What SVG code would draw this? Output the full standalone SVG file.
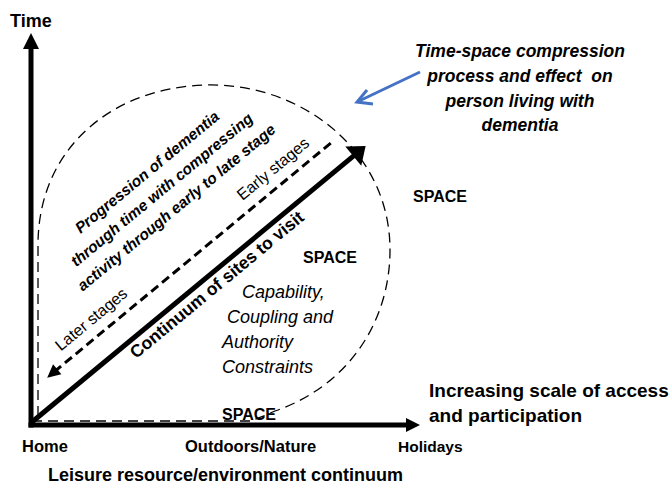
<svg xmlns="http://www.w3.org/2000/svg" width="671" height="485" viewBox="0 0 671 485">
<style>
text{font-family:"Liberation Sans",Arial,sans-serif;fill:#000}
.b{font-weight:bold}
.i{font-style:italic}
.ax{stroke:#000;stroke-width:5;fill:none}
.dash{stroke:#000;stroke-width:1.3;fill:none;stroke-dasharray:10 6}
</style>
<rect width="671" height="485" fill="#fff"/>
<g id="connectors">
  <path id="envelope" class="dash" d="M32,421 L250,421 Q262,417 275,411 C350,385 390,320 390,250 C390,150 300,82 205,85 C110,88 38,150 38,245 L38,421"/>
  <line class="ax" x1="31" y1="427.5" x2="31" y2="46"/>
  <polygon points="31,33 23,49 39,49" fill="#000"/>
  <line class="ax" x1="28.5" y1="425" x2="408" y2="425"/>
  <polygon points="420,425 406,418 406,432" fill="#000"/>
  <g transform="translate(32,422) rotate(-39.6)">
    <line x1="0" y1="0" x2="419" y2="0" stroke="#000" stroke-width="5"/>
    <polygon points="433,0 417,-12.5 417,12.5" fill="#000"/>
    <line x1="408" y1="-24.5" x2="52" y2="-24.5" stroke="#000" stroke-width="3" stroke-dasharray="9 5"/>
    <polygon points="40,-24.5 53,-31 53,-18" fill="#000"/>
  </g>
  <polyline points="420,72 358,101.5" fill="none" stroke="#4472C4" stroke-width="3"/>
  <polyline points="367,90 357,102 373,104" fill="none" stroke="#4472C4" stroke-width="3" stroke-linejoin="miter"/>
</g>
<g id="axis-labels">
  <text class="b" x="10" y="27" font-size="18">Time</text>
  <text class="b" x="22" y="452" font-size="16.5">Home</text>
  <text class="b" x="185" y="452" font-size="16.5">Outdoors/Nature</text>
  <text class="b" x="398" y="452" font-size="15.5">Holidays</text>
  <text class="b" x="48" y="481" font-size="18">Leisure resource/environment continuum</text>
  <text class="b" x="429" y="397" font-size="19">Increasing scale of access</text>
  <text class="b" x="429" y="422" font-size="19">and participation</text>
</g>
<g id="compression-note">
  <text class="b i" font-size="17.5" text-anchor="middle" xml:space="preserve"><tspan x="520" y="57">Time-space compression</tspan><tspan x="520" y="82">process and effect  on</tspan><tspan x="520" y="107">person living with</tspan><tspan x="520" y="131">dementia</tspan></text>
</g>
<g id="space-labels">
  <text class="b" x="413" y="202" font-size="16">SPACE</text>
  <text class="b" x="303" y="263" font-size="16">SPACE</text>
  <text class="b" x="222" y="420" font-size="16">SPACE</text>
</g>
<g id="constraints">
  <text class="i" font-size="18"><tspan x="242" y="298">Capability,</tspan><tspan x="227" y="323">Coupling and</tspan><tspan x="222" y="348">Authority</tspan><tspan x="222" y="373">Constraints</tspan></text>
</g>
<g id="rotated-labels" transform="translate(32,422) rotate(-39.6)">
  <text class="b i" font-size="15.5" text-anchor="middle"><tspan x="248" y="-114">Progression of dementia</tspan><tspan x="248" y="-91">through time with compressing</tspan><tspan x="248" y="-68">activity through early to late stage</tspan></text>
  <text x="303" y="-36" font-size="16">Early stages</text>
  <text x="67" y="-36" font-size="16">Later stages</text>
  <text class="b" x="230" y="18" font-size="17.5" text-anchor="middle">Continuum of sites to visit</text>
</g>
</svg>
